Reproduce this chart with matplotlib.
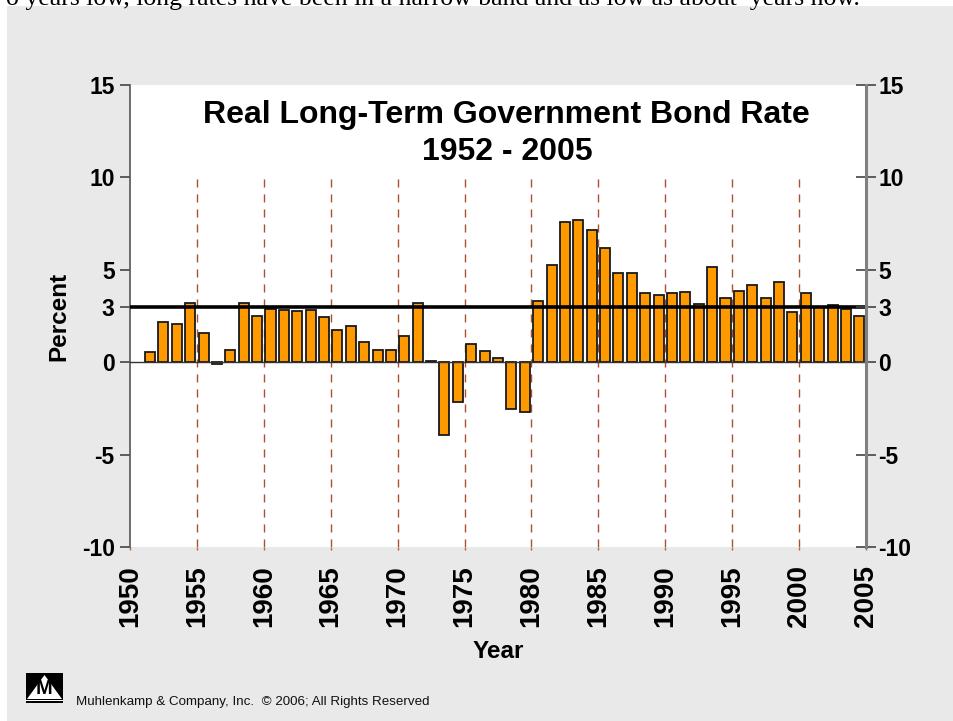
import matplotlib.pyplot as plt
from matplotlib.patches import Rectangle, Polygon
import numpy as np

plt.rcParams['font.family'] = ['Liberation Sans', 'DejaVu Sans']
plt.rcParams['lines.scale_dashes'] = False

# real long-term government bond rate, percent
years = list(range(1952, 2006))
rates = [0.56, 2.16, 2.05, 3.18, 1.60, -0.12, 0.68, 3.18, 2.48, 2.86,
         2.80, 2.75, 2.82, 2.43, 1.76, 1.96, 1.08, 0.67, 0.65, 1.42,
         3.18, 0.08, -3.93, -2.17, 1.00, 0.61, 0.23, -2.55, -2.71, 3.32,
         5.26, 7.60, 7.69, 7.13, 6.20, 4.80, 4.85, 3.76, 3.61, 3.73,
         3.78, 3.14, 5.14, 3.50, 3.83, 4.20, 3.48, 4.36, 2.73, 3.75,
         3.00, 3.07, 2.88, 2.52]
avg_rate = 3
y_ticks = [-10, -5, 0, 3, 5, 10, 15]
x_ticks = list(range(1950, 2006, 5))
grid_years = list(range(1955, 2006, 5))

W, H = 954, 721
fig = plt.figure(figsize=(W / 100, H / 100), dpi=100)
fig.patch.set_facecolor('white')

# grey page panel, kept behind the axes
fig.patches.append(Rectangle((7 / W, 0), 1, (H - 6) / H, transform=fig.transFigure,
                             facecolor='#e9e9e9', edgecolor='none', zorder=-10))
# clipped line of text running above the panel
fig.text(6 / W, (H - 5) / H, "o years low, long rates have been in a narrow band and as low as about  years now.",
         family='Liberation Serif', fontsize=18.5, va='baseline', ha='left')

ax = fig.add_axes([130 / W, (H - 547) / H, (866 - 130) / W, (547 - 85) / H])
ax.set_facecolor('white')
ax.set_xlim(1950, 2005)
ax.set_ylim(-10, 15)

# bars sit in the slot that ends at their year
ax.bar(np.array(years) - 0.5, rates, width=0.75, color='#ff9900',
       edgecolor='#1a1a1a', linewidth=1.3, zorder=3)

ax.vlines(grid_years, -10, 10, colors='#a5532e', linewidth=1.0,
          linestyles=(0, (5.8, 5.0)), zorder=2)
ax.axhline(0, color='#333333', linewidth=1.0, zorder=4)
ax.axhline(avg_rate, color='black', linewidth=2.6, zorder=5)

for s in ['top', 'bottom', 'right']:
    ax.spines[s].set_visible(False)
ax.spines['left'].set_color('#555555')
ax.spines['left'].set_linewidth(1.2)

ax.set_yticks(y_ticks)
ax.set_yticklabels([str(v) for v in y_ticks], fontsize=16.5, fontweight='bold')
ax.tick_params(axis='y', direction='out', length=7, width=1.2, color='#444444', pad=4)

ax.set_xticks(x_ticks)
ax.set_xticklabels([str(v) for v in x_ticks], rotation=90, fontsize=20,
                   fontweight='bold')
ax.tick_params(axis='x', direction='out', length=2, width=1, color='#c0603a', pad=11)

ax.set_ylabel('Percent', fontsize=17.5, fontweight='bold', labelpad=8)
ax.set_xlabel('Year', fontsize=17.5, fontweight='bold', labelpad=9)

# right-hand axis
ax2 = ax.twinx()
ax2.set_ylim(-10, 15)
for s in ['top', 'bottom', 'left']:
    ax2.spines[s].set_visible(False)
ax2.spines['right'].set_color('#808080')
ax2.spines['right'].set_linewidth(2.2)
ax2.set_yticks(y_ticks)
ax2.set_yticklabels([str(v) for v in y_ticks], fontsize=16.5, fontweight='bold')
ax2.tick_params(axis='y', direction='inout', length=14, width=1.2, color='#444444', pad=2)

ax.text(0.512, 0.968, 'Real Long-Term Government Bond Rate\n1952 - 2005',
        transform=ax.transAxes, ha='center', va='top', fontsize=23,
        fontweight='bold', linespacing=1.33, zorder=6)

# company logo and footer
lx0, ly0, lw, lh = 26 / W, (H - 703) / H, 37 / W, 30 / H
fig.patches.append(Rectangle((lx0, ly0), lw, lh, transform=fig.transFigure,
                             facecolor='black', edgecolor='none', zorder=3))
fig.patches.append(Polygon([(lx0 + 1 / W, ly0 + 4 / H), (lx0 + lw - 1 / W, ly0 + 4 / H),
                            (lx0 + lw / 2, ly0 + lh - 2 / H)], closed=True,
                           transform=fig.transFigure, facecolor='white',
                           edgecolor='none', zorder=4))
fig.patches.append(Rectangle((lx0, ly0 + 2 / H), lw, 1.2 / H, transform=fig.transFigure,
                             facecolor='white', edgecolor='none', zorder=4))
fig.text(lx0 + lw / 2, ly0 + 4.5 / H, 'M', ha='center', va='bottom', fontsize=14.5,
         fontweight='bold', color='black', zorder=5)
fig.text(76 / W, (H - 705) / H, 'Muhlenkamp & Company, Inc.  \u00a9 2006; All Rights Reserved',
         fontsize=9.6, ha='left', va='baseline', color='#111111')

fig.savefig('out.png', dpi=100, facecolor=fig.get_facecolor())
